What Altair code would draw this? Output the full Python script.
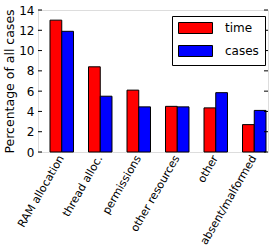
import altair as alt
import pandas as pd

categories = ["RAM allocation", "thread alloc.", "permissions",
              "other resources", "other", "absent/malformed"]
time_vals = [13.0, 8.4, 6.1, 4.5, 4.35, 2.7]
case_vals = [11.9, 5.5, 4.45, 4.45, 5.85, 4.1]
series = ["time", "cases"]
y_ticks = [0, 2, 4, 6, 8, 10, 12, 14]

rows = []
for c, t, k in zip(categories, time_vals, case_vals):
    rows.append({"category": c, "series": "time", "value": t})
    rows.append({"category": c, "series": "cases", "value": k})
df = pd.DataFrame(rows)
ticks_df = pd.DataFrame({"v": y_ticks})

W, H = 230, 142
FONT = "DejaVu Sans"
y_scale = alt.Scale(domain=[0, 14], nice=False)
y_axis = alt.Axis(title="Percentage of all cases", values=y_ticks,
                  ticks=False, domain=False, grid=False,
                  labelFontSize=12, labelPadding=4,
                  labelOverlap=False, labelFlush=False,
                  labelColor="black", labelFont=FONT,
                  titleFont=FONT, titleFontSize=12.5,
                  titleFontWeight="normal", titleColor="black",
                  titlePadding=2)

# wide rectangular legend swatch, drawn from the symbol's left edge
swatch = "M-1,-1H5.18V1H-1Z"

bars = alt.Chart(df).mark_bar(stroke="black", strokeWidth=1).encode(
    x=alt.X("category:N", sort=categories,
            scale=alt.Scale(paddingInner=0.39, paddingOuter=0.182, align=0.857),
            axis=alt.Axis(title=None, labelAngle=-60, labelAlign="right",
                          labelBaseline="middle", labelFontSize=11,
                          labelPadding=4, ticks=False, domain=False,
                          labelColor="black", labelFont=FONT)),
    xOffset=alt.XOffset("series:N", sort=series,
                        scale=alt.Scale(paddingInner=0, paddingOuter=0)),
    y=alt.Y("value:Q", scale=y_scale, axis=y_axis),
    color=alt.Color("series:N", sort=series,
                    scale=alt.Scale(domain=series, range=["#ff0000", "#0000ff"]),
                    legend=alt.Legend(title=None, orient="none",
                                      legendX=134, legendY=6,
                                      symbolType=swatch,
                                      symbolSize=121, symbolStrokeColor="black",
                                      symbolStrokeWidth=1, labelFontSize=12,
                                      labelFont=FONT, labelColor="black",
                                      labelOffset=35, rowPadding=7,
                                      padding=6, strokeColor="black",
                                      fillColor="white", cornerRadius=0)),
)

# inward tick marks on the left and right frame edges
left_ticks = alt.Chart(ticks_df).mark_rule(color="black", strokeWidth=1).encode(
    y=alt.Y("v:Q", scale=y_scale, axis=y_axis),
    x=alt.value(0), x2=alt.value(4),
)
right_ticks = alt.Chart(ticks_df).mark_rule(color="black", strokeWidth=1).encode(
    y=alt.Y("v:Q", scale=y_scale, axis=y_axis),
    x=alt.value(W - 4), x2=alt.value(W),
)

chart = alt.layer(bars, left_ticks, right_ticks).properties(
    width=W, height=H,
    autosize=alt.AutoSizeParams(type="none"),
    padding={"left": 38, "top": 10, "right": 2, "bottom": 99},
).configure_view(stroke="black", strokeWidth=1).configure(background="white")

chart.save("out.html", embed_options={"renderer": "svg", "actions": False})
